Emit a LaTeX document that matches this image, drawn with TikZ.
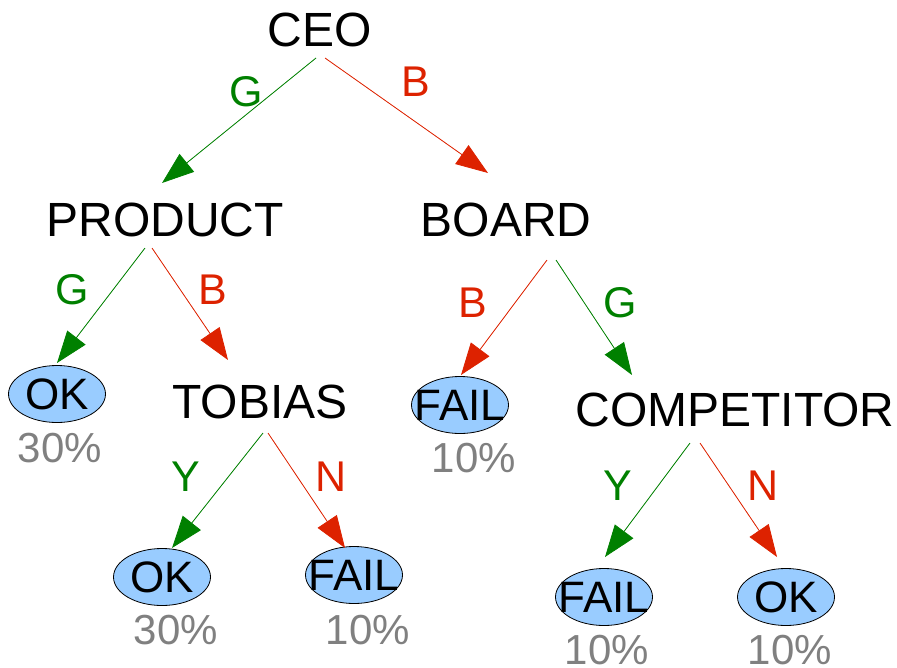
\documentclass[tikz,border=0pt]{standalone}
\usepackage{fontspec}
\setmainfont{Liberation Sans}
\usetikzlibrary{arrows.meta,shapes.geometric}
\definecolor{gr}{RGB}{0,128,0}
\definecolor{rd}{RGB}{221,34,0}
\definecolor{pct}{RGB}{128,128,128}
\definecolor{ellfill}{RGB}{153,204,255}
\newcommand{\lefttxt}[1]{\makebox[40pt]{#1}}
\begin{document}
\begin{tikzpicture}[x=1pt,y=-1pt,
  title/.style={inner sep=0pt,font=\fontsize{48}{52}\selectfont},
  leaf/.style={ellipse,draw=black,line width=0.8pt,fill=ellfill,minimum width=97pt,minimum height=57pt,inner sep=0pt,font=\fontsize{44}{48}\selectfont},
  pctlab/.style={inner sep=0pt,text=pct,font=\fontsize{42}{46}\selectfont},
  elab/.style={inner sep=0pt,font=\fontsize{43}{47}\selectfont},
  garr/.style={draw=gr,line width=0.8pt,-{Triangle[length=32pt,width=23pt]},fill=gr},
  rarr/.style={draw=rd,line width=0.8pt,-{Triangle[length=32pt,width=23pt]},fill=rd}]
\useasboundingbox (0,0) rectangle (897,667);
% nodes
\node[title] (ceo) at (320,30) {CEO};
\node[title] (product) at (165,220) {PRODUCT};
\node[title] (board) at (506,220) {BOARD};
\node[title] (tobias) at (260,402) {TOBIAS};
\node[title] (competitor) at (735,410) {COMPETITOR};
\node[leaf] (ok1) at (57,394) {\lefttxt{OK}};
\node[pctlab] (p1) at (60,448) {30\%};
\node[leaf] (fail1) at (460,405) {\lefttxt{FAIL}};
\node[pctlab] (p2) at (474,458) {10\%};
\node[leaf] (ok2) at (162,577) {\lefttxt{OK}};
\node[pctlab] (p3) at (176,630) {30\%};
\node[leaf] (fail2) at (354,575) {\lefttxt{FAIL}};
\node[pctlab] (p4) at (368,630) {10\%};
\node[leaf] (fail3) at (604,597) {\lefttxt{FAIL}};
\node[pctlab] (p5) at (607,650) {10\%};
\node[leaf] (ok3) at (786,597) {\lefttxt{OK}};
\node[pctlab] (p6) at (790,650) {10\%};
% connector end points
\coordinate (ceoL) at (316,58);
\coordinate (ceoR) at (325,58);
\coordinate (prodT) at (162,183);
\coordinate (boardT) at (488,173);
\coordinate (prodL) at (145,248);
\coordinate (prodR) at (152,248);
\coordinate (ok1T) at (57,363);
\coordinate (tobT) at (228,360);
\coordinate (boardL) at (547,260);
\coordinate (boardR) at (556,260);
\coordinate (fail1T) at (461,375);
\coordinate (compT) at (632,375);
\coordinate (tobL) at (263,433);
\coordinate (tobR) at (268,433);
\coordinate (ok2T) at (172,548);
\coordinate (fail2T) at (345,548);
\coordinate (compL) at (690,443);
\coordinate (compR) at (700,443);
\coordinate (fail3T) at (605,557);
\coordinate (ok3T) at (777,557);
% connectors
\draw[garr] (ceoL) -- (prodT);
\draw[rarr] (ceoR) -- (boardT);
\draw[garr] (prodL) -- (ok1T);
\draw[rarr] (prodR) -- (tobT);
\draw[rarr] (boardL) -- (fail1T);
\draw[garr] (boardR) -- (compT);
\draw[garr] (tobL) -- (ok2T);
\draw[rarr] (tobR) -- (fail2T);
\draw[garr] (compL) -- (fail3T);
\draw[rarr] (compR) -- (ok3T);
% edge labels
\node[elab,text=gr] (l1) at (246,92) {G};
\node[elab,text=rd] (l2) at (416,82) {B};
\node[elab,text=gr] (l3) at (72,290) {G};
\node[elab,text=rd] (l4) at (213,290) {B};
\node[elab,text=rd] (l5) at (473,303) {B};
\node[elab,text=gr] (l6) at (620,303) {G};
\node[elab,text=gr] (l7) at (186,477) {Y};
\node[elab,text=rd] (l8) at (331,477) {N};
\node[elab,text=gr] (l9) at (618,486) {Y};
\node[elab,text=rd] (l10) at (763,486) {N};
\end{tikzpicture}
\end{document}
